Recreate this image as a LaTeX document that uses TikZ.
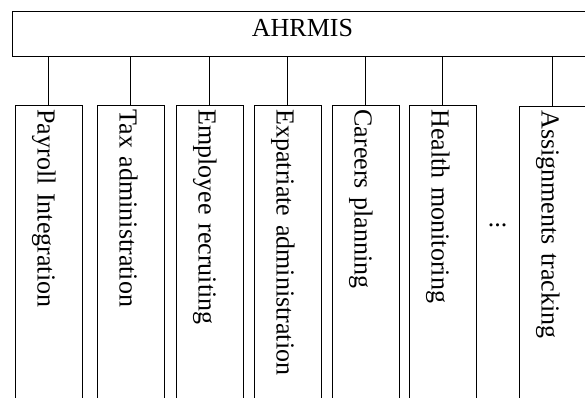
\documentclass[tikz,border=0pt]{standalone}
\usepackage{fontspec}
\setmainfont{Liberation Serif}
\begin{document}
\begin{tikzpicture}[x=1pt,y=-1pt,
  every node/.style={font=\fontsize{26}{30}\selectfont},
  topbox/.style={draw, line width=1pt, anchor=north west, minimum width=580pt,
    minimum height=45pt, inner sep=0pt, text height=17pt, text depth=10.6pt},
  subbox/.style={draw, line width=1pt, rotate=-90, anchor=west,
    minimum width=306pt, minimum height=67pt, text width=297pt, align=left,
    inner xsep=4.5pt, inner ysep=0pt, text height=22pt, text depth=0pt},
  link/.style={line width=1pt}]
\useasboundingbox (0,0) rectangle (585,397);
\node[topbox] (top) at (12,10.5) {AHRMIS};
\node[subbox] (p1) at (48.5,104.5) {Payroll Integration};
\node[subbox] (p2) at (130.5,104.5) {Tax administration};
\node[subbox] (p3) at (209.5,104.5) {Employee recruiting};
\node[subbox] (p4) at (287.5,104.5) {Expatriate administration};
\node[subbox] (p5) at (365.5,104.5) {Careers planning};
\node[subbox] (p6) at (442.5,104.5) {Health monitoring};
\node[subbox] (p7) at (552.5,105.5) {Assignments tracking};
\node[inner sep=0pt] (dots) at (497.5,225) {...};
\foreach \i in {1,...,7}{
  \draw[link] (p\i.west) -- (p\i.west |- top.south);
}
\end{tikzpicture}
\end{document}
